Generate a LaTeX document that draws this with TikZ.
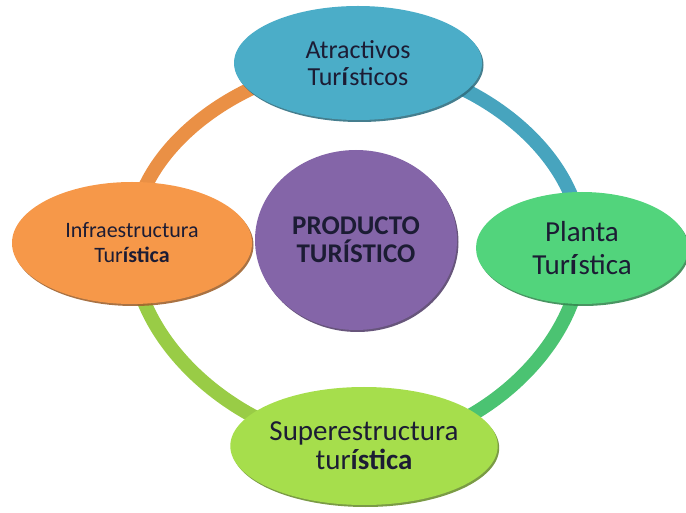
\documentclass[tikz,border=0pt]{standalone}
\usepackage{fontspec}
\setmainfont{Carlito}
\usetikzlibrary{shapes.geometric,shadows,backgrounds}
\definecolor{azul}{HTML}{4BADC8}
\definecolor{naranja}{HTML}{F69849}
\definecolor{verde}{HTML}{52D47C}
\definecolor{lima}{HTML}{A6DE4C}
\definecolor{morado}{HTML}{8465A8}
\definecolor{tinta}{HTML}{1C1C34}
\begin{document}
\begin{tikzpicture}[x = 1pt, y = 1pt,
    burbuja/.style = {ellipse, fill = #1, text = tinta, align = center, inner sep = 0pt,
        drop shadow = {shadow xshift = 1.5pt, shadow yshift = -2pt, fill = #1!65!black, opacity = 0.9}},
    anillo/.style = {line width = 14pt, #1}]
            \useasboundingbox (0,0) rectangle (686,512);
            %画出中心的圆
            \node[burbuja = morado, minimum width = 202pt, minimum height = 180pt,
                font = \fontsize{27}{28}\selectfont\bfseries] (producto) at (356,272) {PRODUCTO\\TURÍSTICO};

            %画出四个椭圆
            \node[burbuja = azul, minimum width = 248pt, minimum height = 114pt,
                font = \fontsize{26}{27}\selectfont] (atractivos) at (358,449) {Atractivos\\Tur\textbf{í}sticos};
            \node[burbuja = naranja, minimum width = 240pt, minimum height = 122pt,
                font = \fontsize{22}{25}\selectfont] (infra) at (132,269) {Infraestructura\\Tur\textbf{ística}};
            \node[burbuja = verde, minimum width = 212pt, minimum height = 112pt,
                font = \fontsize{29}{33}\selectfont] (planta) at (582,264) {Planta\\Tur\textbf{í}stica};
            \node[burbuja = lima, minimum width = 266pt, minimum height = 118pt,
                font = \fontsize{29}{29}\selectfont] (super) at (364,66) {Superestructura\\tur\textbf{ística}};

            %画出连接的圆环
            \begin{scope}[on background layer]
                \draw[anillo = naranja!95!black] (infra.center) to[out = 90, in = 180, looseness = 0.9] (atractivos.center);
                \draw[anillo = azul!95!black] (atractivos.center) to[out = 0, in = 90, looseness = 0.9] (planta.center);
                \draw[anillo = verde!92!black] (planta.center) to[out = -90, in = 0, looseness = 0.9] (super.center);
                \draw[anillo = lima!92!black] (super.center) to[out = 180, in = -90, looseness = 0.9] (infra.center);
            \end{scope}
        \end{tikzpicture}
\end{document}
